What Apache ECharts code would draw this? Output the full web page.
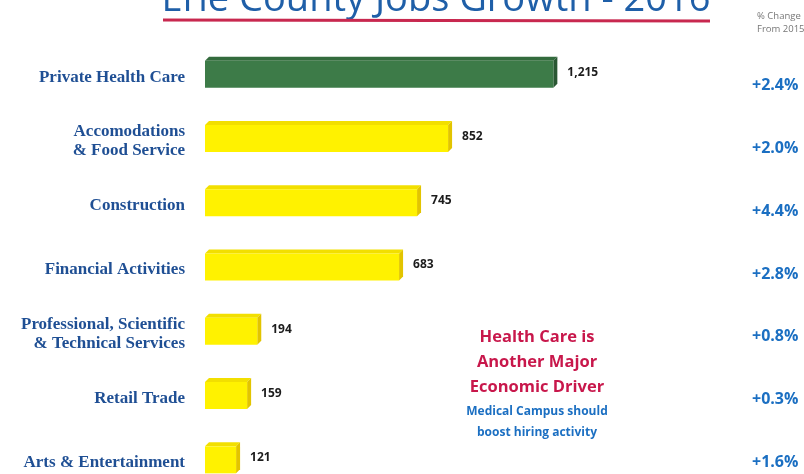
<!DOCTYPE html>
<html>
<head>
<meta charset="utf-8">
<script src="https://cdn.jsdelivr.net/npm/echarts@6/dist/echarts.min.js"></script>
<style>
  html, body { margin: 0; padding: 0; background: #ffffff; }
  #chart { width: 804px; height: 474px; }
</style>
</head>
<body>
<div id="chart"></div>
<script>
// Erie County jobs added in 2016, by sector
const sectors = [
  'Private Health Care',
  'Accomodations\n& Food Service',
  'Construction',
  'Financial Activities',
  'Professional, Scientific\n& Technical Services',
  'Retail Trade',
  'Arts & Entertainment'
];
const jobsAdded = [1215, 852, 745, 683, 194, 159, 121];
const pctChange = ['+2.4%', '+2.0%', '+4.4%', '+2.8%', '+0.8%', '+0.3%', '+1.6%'];
const highlightSector = 'Private Health Care';

const chart = echarts.init(document.getElementById('chart'), null, { renderer: 'canvas' });

const fmt = v => v.toLocaleString('en-US');

// Slab-style bar: front face, bevelled top and right-hand end
function renderBar(params, api) {
  const idx = api.value(0);
  const val = api.value(1);
  const start = api.coord([0, idx]);
  const end = api.coord([val, idx]);
  const h = 31, d = 4;
  const x0 = start[0], x1 = end[0], cy = start[1];
  const top = cy - h / 2, bot = cy + h / 2;
  const hi = sectors[idx] === highlightSector;
  const front = hi ? '#3d7b48' : '#fff200';
  const side = hi ? '#2a5733' : '#e2c400';
  const lid = hi ? '#336b3d' : '#f2df00';
  return {
    type: 'group',
    children: [
      { type: 'polygon', shape: { points: [[x0 + d, top], [x1, top], [x1 - d, top + d], [x0, top + d]] }, style: { fill: lid } },
      { type: 'polygon', shape: { points: [[x1, top], [x1, bot - d], [x1 - d, bot], [x1 - d, top + d]] }, style: { fill: side } },
      { type: 'rect', shape: { x: x0, y: top + d, width: x1 - d - x0, height: h - d }, style: { fill: front } },
      {
        type: 'text', x: x1 + 10, y: cy,
        style: {
          text: fmt(val), fill: '#1c1c1c',
          fontFamily: 'Open Sans', fontWeight: 'bold', fontSize: 12,
          align: 'left', verticalAlign: 'middle'
        }
      }
    ]
  };
}

const hiddenAxis = { axisLine: { show: false }, axisTick: { show: false }, splitLine: { show: false } };

const option = {
  backgroundColor: '#ffffff',
  animation: false,
  grid: [
    // bars
    { left: 205, top: 40, width: 435, height: 450, outerBoundsMode: 'none', containLabel: false },
    // sector names, set a little lower than the bars
    { left: 205, top: 45, width: 435, height: 450, outerBoundsMode: 'none', containLabel: false },
    // percentage change column
    { left: 205, top: 54, width: 435, height: 440, outerBoundsMode: 'none', containLabel: false }
  ],
  xAxis: [
    { gridIndex: 0, type: 'value', min: 0, max: 1500, show: false },
    { gridIndex: 1, type: 'value', min: 0, max: 1500, show: false },
    { gridIndex: 2, type: 'value', min: 0, max: 1500, show: false }
  ],
  yAxis: [
    Object.assign({ gridIndex: 0, type: 'category', data: sectors, inverse: true, axisLabel: { show: false } }, hiddenAxis),
    Object.assign({
      gridIndex: 1, type: 'category', data: sectors, inverse: true,
      axisLabel: {
        margin: 20, align: 'right',
        color: '#1f4f94', fontFamily: 'Liberation Serif', fontWeight: 'bold',
        fontSize: 17, lineHeight: 19
      }
    }, hiddenAxis),
    Object.assign({
      gridIndex: 2, type: 'category', data: pctChange, inverse: true, position: 'right',
      axisLabel: {
        margin: 112, align: 'left',
        color: '#1b6fc2', fontFamily: 'Open Sans', fontWeight: 'bold', fontSize: 16
      }
    }, hiddenAxis)
  ],
  series: [
    {
      type: 'custom',
      xAxisIndex: 0, yAxisIndex: 0,
      renderItem: renderBar,
      encode: { x: 1, y: 0 },
      data: jobsAdded.map((v, i) => [i, v])
    }
  ],
  graphic: [
    {
      type: 'text', x: 436, y: 0,
      style: {
        text: 'Erie County Jobs Growth - 2016', fill: '#1f5fa8',
        fontFamily: 'Open Sans', fontSize: 38,
        align: 'center', verticalAlign: 'middle'
      }
    },
    {
      type: 'line', shape: { x1: 163, y1: 20, x2: 710, y2: 21 },
      style: { stroke: '#c8284f', lineWidth: 3 }
    },
    {
      type: 'text', x: 757, y: 10,
      style: {
        text: '% Change\nFrom 2015', fill: '#777777',
        fontFamily: 'Open Sans', fontSize: 9.5, lineHeight: 13,
        align: 'left', verticalAlign: 'top'
      }
    },
    {
      type: 'text', x: 537, y: 325,
      style: {
        text: 'Health Care is\nAnother Major\nEconomic Driver', fill: '#c8174b',
        fontFamily: 'Open Sans', fontWeight: 'bold', fontSize: 16.5, lineHeight: 25,
        align: 'center', verticalAlign: 'top'
      }
    },
    {
      type: 'text', x: 537, y: 401,
      style: {
        text: 'Medical Campus should\nboost hiring activity', fill: '#1b6fc2',
        fontFamily: 'Open Sans', fontWeight: 'bold', fontSize: 12, lineHeight: 21,
        align: 'center', verticalAlign: 'top'
      }
    }
  ]
};

chart.setOption(option);
</script>
</body>
</html>
